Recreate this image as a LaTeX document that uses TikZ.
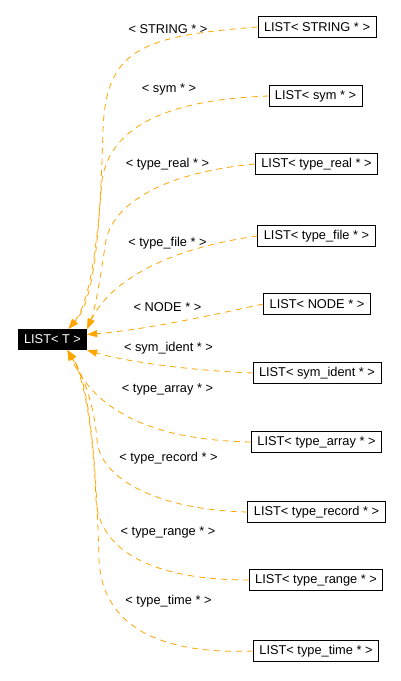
\documentclass[tikz,border=0pt]{standalone}
\usepackage{fontspec}
\setmainfont{Liberation Sans}
\usetikzlibrary{arrows.meta,positioning}
\definecolor{deporange}{HTML}{FFA500}
\begin{document}
\begin{tikzpicture}[
  x=1pt, y=-1pt,
  every node/.style={font=\fontsize{12.8}{14}\selectfont, inner sep=1pt},
  listbox/.style={draw, line width=0.8pt, minimum height=21pt, inner xsep=6pt},
  basebox/.style={fill=black, text=white, minimum height=21pt, inner xsep=6pt},
  dep/.style={draw=deporange, line width=0.8pt, dash pattern=on 6pt off 5pt,
    -{Triangle[length=10pt, width=7pt, fill=deporange]}}
]
\useasboundingbox (0,0) rectangle (401,681);

\node[basebox] (Lt) at (52.5,339.5) {LIST< T >};

\node[listbox] (Lstring) at (317,27) {LIST< STRING * >};
\node[listbox] (Lsym) at (315.5,96) {LIST< sym * >};
\node[listbox] (Lreal) at (316.5,164) {LIST< type\_real * >};
\node[listbox] (Lfile) at (316.5,236) {LIST< type\_file * >};
\node[listbox] (Lnode) at (317,304) {LIST< NODE * >};
\node[listbox] (Lident) at (317,373) {LIST< sym\_ident * >};
\node[listbox] (Larray) at (316.5,442) {LIST< type\_array * >};
\node[listbox] (Lrecord) at (316.5,512) {LIST< type\_record * >};
\node[listbox] (Lrange) at (316,580) {LIST< type\_range * >};
\node[listbox] (Ltime) at (316,651) {LIST< type\_time * >};

\node (tstring) at (168,29) {< STRING * >};
\node (tsym) at (169,89) {< sym * >};
\node (treal) at (167.5,164) {< type\_real * >};
\node (tfile) at (167.5,243) {< type\_file * >};
\node (tnode) at (167.5,307) {< NODE * >};
\node (tident) at (168.5,348) {< sym\_ident * >};
\node (tarray) at (167.5,389) {< type\_array * >};
\node (trecord) at (168.5,458) {< type\_record * >};
\node (trange) at (168,532) {< type\_range * >};
\node (ttime) at (168.5,601) {< type\_time * >};

\draw[dep] (Lstring.west) .. controls (140,36) and (106,50) .. (103,130)
  .. controls (100,230) and (95,300) .. ([xshift=16pt]Lt.north);
\draw[dep] (Lsym.west) .. controls (160,100) and (110,130) .. (102,180)
  .. controls (98,230) and (92,300) .. ([xshift=16pt]Lt.north);
\draw[dep] (Lreal.west) .. controls (170,172) and (115,200) .. (106,240)
  .. controls (100,280) and (95,310) .. (Lt.north east);
\draw[dep] (Lfile.west) .. controls (170,248) and (110,280) .. (Lt.north east);
\draw[dep] (Lnode.west) .. controls (190,320) and (140,330) .. ([yshift=5pt]Lt.east);
\draw[dep] (Lident.west) .. controls (180,370) and (120,360) .. (Lt.south east);
\draw[dep] (Larray.west) .. controls (150,440) and (95,410) .. ([xshift=15pt]Lt.south);
\draw[dep] (Lrecord.west) .. controls (160,510) and (100,480) .. (97,440)
  .. controls (94,400) and (80,370) .. ([xshift=15pt]Lt.south);
\draw[dep] (Lrange.west) .. controls (160,580) and (100,555) .. (96,500)
  .. controls (93,430) and (85,380) .. ([xshift=15pt]Lt.south);
\draw[dep] (Ltime.west) .. controls (150,655) and (102,620) .. (99,560)
  .. controls (96,450) and (88,380) .. ([xshift=15pt]Lt.south);
\end{tikzpicture}
\end{document}
